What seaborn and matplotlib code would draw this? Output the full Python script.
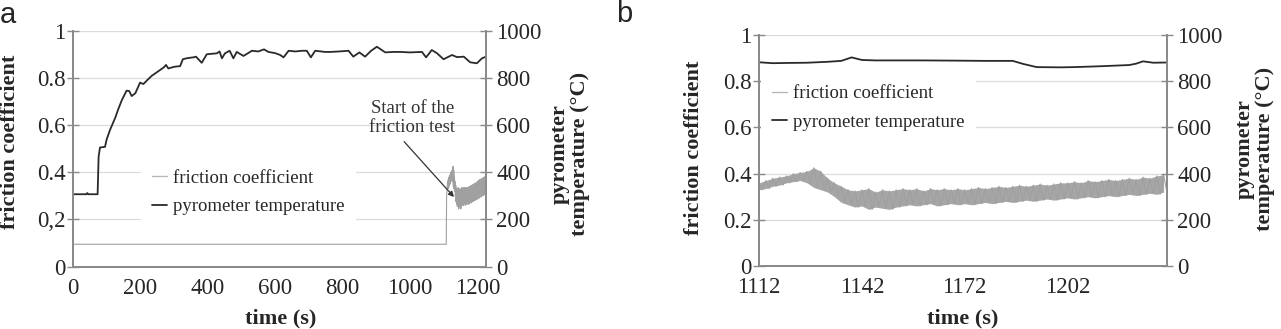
import numpy as np
import seaborn as sns
import matplotlib.pyplot as plt

# ---- data ----
# panel a: pyrometer temperature (degC) over the whole run
temp_a_t = [0, 40, 42, 46, 73, 76, 80, 95, 100, 110, 119, 125, 135, 145, 159, 167, 174, 185, 199, 209,
            220, 233, 245, 258, 270, 276, 283, 300, 318, 326, 340, 357, 365, 382, 397, 410, 427, 435, 442, 451,
            465, 476, 486, 506, 520, 531, 550, 567, 580, 600, 615, 625, 640, 660, 680, 694, 706, 719, 748, 763,
            790, 818, 832, 850, 867, 885, 902, 927, 950, 971, 1000, 1036, 1048, 1065, 1080, 1100, 1125, 1140, 1160, 1179,
            1199, 1214, 1226]
temp_a_v = [307, 307, 312, 307, 307, 466, 505, 508, 540, 580, 610, 630, 670, 706, 746, 744, 723, 735, 780, 774,
            790, 808, 820, 833, 845, 855, 840, 847, 850, 879, 884, 887, 890, 864, 900, 902, 904, 912, 883, 904,
            915, 883, 910, 893, 905, 915, 912, 921, 910, 905, 897, 887, 915, 912, 915, 915, 887, 915, 910, 910,
            912, 915, 890, 908, 890, 915, 932, 908, 910, 910, 908, 910, 887, 918, 905, 879, 897, 888, 890, 866,
            862, 883, 890]

# panel b: pyrometer temperature during the friction test
temp_b_t = [1112, 1116, 1120, 1126, 1132, 1136, 1139, 1142, 1146, 1160, 1170, 1178, 1186, 1189, 1193, 1200,
            1204, 1212, 1220, 1222, 1224, 1227, 1231]
temp_b_v = [882, 878, 879, 880, 884, 888, 903, 892, 890, 890, 889, 888, 888, 875, 861, 860,
            861, 865, 870, 876, 886, 880, 881]

# friction coefficient before the test (flat baseline) and the jump
fric_pre_t = [0, 1108, 1109]
fric_pre_v = [0.095, 0.095, 0.30]

# friction coefficient during the test: upper / lower envelope of the oscillation
band_t = [1112, 1114, 1116, 1118, 1120, 1122, 1124, 1126, 1128, 1130, 1132, 1134, 1136, 1138, 1140,
          1142, 1144, 1146, 1148, 1150, 1152, 1154, 1156, 1158, 1160, 1162, 1164, 1166, 1168, 1170,
          1172, 1174, 1176, 1178, 1180, 1182, 1184, 1186, 1188, 1190, 1192, 1194, 1196, 1198, 1200,
          1202, 1204, 1206, 1208, 1210, 1212, 1214, 1216, 1218, 1220, 1222, 1224, 1226, 1228, 1230]
band_hi = [0.36, 0.37, 0.38, 0.385, 0.39, 0.40, 0.405, 0.41, 0.425, 0.41, 0.38, 0.36, 0.345, 0.33, 0.325,
           0.33, 0.335, 0.32, 0.33, 0.325, 0.33, 0.335, 0.33, 0.335, 0.325, 0.335, 0.33, 0.335, 0.33, 0.335,
           0.33, 0.335, 0.34, 0.335, 0.34, 0.345, 0.34, 0.345, 0.35, 0.345, 0.35, 0.355, 0.35, 0.355, 0.36,
           0.36, 0.365, 0.36, 0.37, 0.365, 0.37, 0.375, 0.37, 0.375, 0.38, 0.375, 0.385, 0.38, 0.39, 0.395]
band_lo = [0.33, 0.335, 0.345, 0.35, 0.36, 0.365, 0.37, 0.36, 0.34, 0.33, 0.32, 0.30, 0.275, 0.265, 0.255,
           0.26, 0.245, 0.255, 0.25, 0.245, 0.255, 0.26, 0.265, 0.26, 0.265, 0.27, 0.26, 0.265, 0.27, 0.265,
           0.27, 0.265, 0.27, 0.275, 0.27, 0.275, 0.28, 0.275, 0.28, 0.285, 0.28, 0.285, 0.29, 0.285, 0.29,
           0.295, 0.29, 0.295, 0.30, 0.295, 0.30, 0.305, 0.30, 0.305, 0.31, 0.305, 0.31, 0.315, 0.31, 0.32]

left_ticks = [0, 0.2, 0.4, 0.6, 0.8, 1]
left_labels_a = ["0", "0,2", "0.4", "0.6", "0.8", "1"]
left_labels_b = ["0", "0.2", "0.4", "0.6", "0.8", "1"]
right_ticks = [0, 200, 400, 600, 800, 1000]
xticks_a = [0, 200, 400, 600, 800, 1000, 1200]
xticks_b = [1112, 1142, 1172, 1202]

# ---- style ----
sns.set_style("white")
plt.rcParams["font.family"] = ["Liberation Serif", "DejaVu Serif"]

SPINE = "#8a8a8a"
GRID = "#dcdcdc"
FRIC = "#a0a0a0"
TEMP = "#2a2a2a"
TICK_FS = 16.5
LAB_FS = 16
LEG_FS = 13.5

# zig-zag through the envelope (high at even second, low at the odd one)
zz_t = np.column_stack([band_t, np.array(band_t) + 1]).ravel()
zz_v = np.column_stack([band_hi, band_lo]).ravel()


def draw_panel(ax, fric_t, fric_v, t_temp, v_temp, xlim, xticks, ylabels):
    ax2 = ax.twinx()
    ax.fill_between(band_t, band_lo, band_hi, color="#a6a6a6", lw=0, zorder=2)
    sns.lineplot(x=fric_t, y=fric_v, ax=ax, color=FRIC, lw=0.8, sort=False,
                 estimator=None, label="friction coefficient", legend=False, zorder=3)
    sns.lineplot(x=t_temp, y=v_temp, ax=ax2, color=TEMP, lw=1.3, sort=False,
                 estimator=None, label="pyrometer temperature", legend=False)
    for a in (ax, ax2):
        if a.get_legend() is not None:
            a.get_legend().remove()

    ax.set_xlim(*xlim)
    ax.set_ylim(0, 1)
    ax2.set_ylim(0, 1000)
    ax.set_xticks(xticks)
    ax.set_xticklabels([str(x) for x in xticks])
    ax.set_yticks(left_ticks)
    ax.set_yticklabels(ylabels)
    ax2.set_yticks(right_ticks)
    ax2.set_yticklabels([str(v) for v in right_ticks])

    ax.grid(axis="y", color=GRID, lw=0.9)
    ax.set_axisbelow(True)
    for a in (ax, ax2):
        a.spines["top"].set_visible(False)
        for s in ("left", "right", "bottom"):
            a.spines[s].set_color(SPINE)
            a.spines[s].set_linewidth(1.3)
    ax.tick_params(axis="y", direction="inout", length=9, width=1, color=SPINE,
                   labelsize=TICK_FS, pad=1)
    ax2.tick_params(axis="y", direction="inout", length=9, width=1, color=SPINE,
                    labelsize=TICK_FS, pad=3)
    ax.tick_params(axis="x", length=0, labelsize=TICK_FS, pad=8)

    ax.set_xlabel("time (s)", fontsize=LAB_FS, fontweight="bold", va="top")
    ax.set_ylabel("friction coefficient", fontsize=LAB_FS, fontweight="bold")
    ax2.set_ylabel("pyrometer\ntemperature (\u00b0C)", fontsize=LAB_FS, fontweight="bold",
                   linespacing=1.0)
    return ax2


fig = plt.figure(figsize=(12.81, 3.29), dpi=100)
ax_a = fig.add_axes([0.0570, 0.1894, 0.3224, 0.7173])
ax_b = fig.add_axes([0.5925, 0.1915, 0.3185, 0.7021])

fa_t = list(fric_pre_t) + list(zz_t)
fa_v = list(fric_pre_v) + list(zz_v)
ax2_a = draw_panel(ax_a, fa_t, fa_v, temp_a_t, temp_a_v, (0, 1226), xticks_a, left_labels_a)
ax2_b = draw_panel(ax_b, zz_t, zz_v, temp_b_t, temp_b_v, (1112, 1231), xticks_b, left_labels_b)

# label placement (left labels anchor at their right edge, right labels at their left edge)
ax_a.xaxis.set_label_coords(0.504, -0.178)
ax_a.yaxis.set_label_coords(-0.128, 0.53)
ax2_a.yaxis.set_label_coords(1.155, 0.477)
ax_b.xaxis.set_label_coords(0.5, -0.183)
ax_b.yaxis.set_label_coords(-0.136, 0.51)
ax2_b.yaxis.set_label_coords(1.167, 0.506)

# legends
for ax, ax2, anchor in ((ax_a, ax2_a, (0.425, 0.314)), (ax_b, ax2_b, (0.268, 0.684))):
    h1, l1 = ax.get_legend_handles_labels()
    h2, l2 = ax2.get_legend_handles_labels()
    leg = ax2.legend(h1 + h2, l1 + l2, loc="center", bbox_to_anchor=anchor, frameon=True,
                     fancybox=False, edgecolor="none", facecolor="white", framealpha=1,
                     fontsize=LEG_FS, handlelength=0.8, handletextpad=0.3,
                     labelspacing=0.6, borderpad=0.6)
    leg.get_lines()[0].set_color("#b8b8b8")
    leg.get_lines()[0].set_linewidth(1.0)

# annotation in panel a
ax_a.annotate("Start of the\nfriction test", xy=(1131, 0.295), xytext=(1007, 0.63),
              ha="center", va="center", fontsize=LEG_FS, color="#333333", linespacing=1.2,
              arrowprops=dict(arrowstyle="-|>", color="#333333", lw=0.9, mutation_scale=8,
                              shrinkA=2, shrinkB=0, relpos=(0.35, 0)))

fig.text(0.0, 1 - 1 / 329, "a", fontsize=21, family="Liberation Sans", va="top", ha="left")
fig.text(616 / 1281, 1 - 0 / 329, "b", fontsize=21, family="Liberation Sans", va="top", ha="left")

fig.savefig("out.png", dpi=100)
